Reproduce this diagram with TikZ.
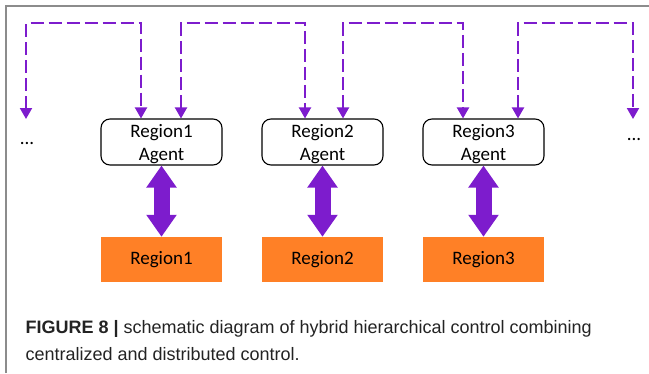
\documentclass[tikz,border=0pt]{standalone}
\usepackage{fontspec}
\usetikzlibrary{arrows.meta,positioning}
\newfontfamily\boxfont{Carlito}
\newfontfamily\capfont{Liberation Sans}
\definecolor{linkviolet}{RGB}{125,28,205}
\definecolor{regorange}{RGB}{255,128,38}
\definecolor{framegray}{RGB}{140,140,140}
\definecolor{captext}{RGB}{35,35,35}

\begin{document}
\begin{tikzpicture}[x=1pt,y=-1pt,
    >={Triangle[width=12pt,length=11pt]},
    agent/.style={draw,rounded corners=9pt,line width=1.1pt,minimum width=121pt,minimum height=46pt,inner sep=0pt,text depth=0pt,align=center,font=\boxfont\fontsize{19}{23}\selectfont},
    region/.style={fill=regorange,minimum width=121pt,minimum height=45pt,inner sep=0pt,font=\boxfont\fontsize{19}{23}\selectfont},
    link/.style={<->,dash pattern=on 13pt off 5pt,line width=2pt,linkviolet},
    biglink/.style={{Triangle[width=29pt,length=22pt]}-{Triangle[width=29pt,length=22pt]},line width=16pt,linkviolet}]
            \useasboundingbox (0,0) rectangle (649,373);
            \draw[framegray,line width=1.2pt] (6,373) -- (6,6) -- (649,6);
            \node[agent] (a1) at (161.5,142) {Region1\\Agent};
            \node[agent] (a2) at (322.5,142) {Region2\\Agent};
            \node[agent] (a3) at (483.5,142) {Region3\\Agent};
            \node[region] (r1) at (161.5,259.5) {Region1};
            \node[region] (r2) at (322.5,259.5) {Region2};
            \node[region] (r3) at (483.5,259.5) {Region3};
            \node[font=\boxfont\fontsize{19}{23}\selectfont] (dl) at (27,143) {...};
            \node[font=\boxfont\fontsize{19}{23}\selectfont] (dr) at (634,139) {...};
            \coordinate (tl) at (26,119);
            \coordinate (tr) at (633,119);
            \draw[link] (tl) -- ++(0,-96) -| ([xshift=-20.5pt]a1.north);
            \draw[link] ([xshift=19.5pt]a1.north) -- ++(0,-95) -| ([xshift=-17.5pt]a2.north);
            \draw[link] ([xshift=20.5pt]a2.north) -- ++(0,-95) -| ([xshift=-20.5pt]a3.north);
            \draw[link] ([xshift=34.5pt]a3.north) -- ++(0,-95) -| (tr);
            \draw[biglink] (a1) -- (r1);
            \draw[biglink] (a2) -- (r2);
            \draw[biglink] (a3) -- (r3);
            \node[anchor=base west,text=captext,font=\capfont\fontsize{18}{26}\selectfont] (cap1) at (22,333) {\textbf{FIGURE 8 |} schematic diagram of hybrid hierarchical control combining};
            \node[anchor=base west,text=captext,font=\capfont\fontsize{18}{26}\selectfont] (cap2) at (22,360) {centralized and distributed control.};
\end{tikzpicture}
\end{document}
